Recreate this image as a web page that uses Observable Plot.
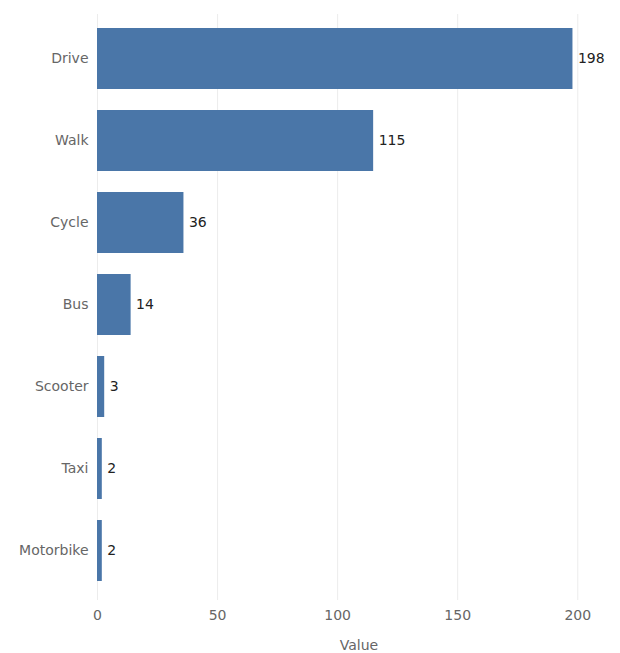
<!DOCTYPE html>
<html>
<head>
<meta charset="utf-8">
<script src="https://cdn.jsdelivr.net/npm/d3@7"></script>
<script src="https://cdn.jsdelivr.net/npm/@observablehq/plot@0.6"></script>
<style>
  body { margin: 0; background: #fff; }
  #chart svg { display: block; }
</style>
</head>
<body>
<div id="chart"></div>
<script>
const modes = ["Drive", "Walk", "Cycle", "Bus", "Scooter", "Taxi", "Motorbike"];
const counts = [198, 115, 36, 14, 3, 2, 2];
const xTicks = [0, 50, 100, 150, 200];
const xLabel = "Value";

const data = modes.map((m, i) => ({mode: m, value: counts[i]}));
const font = "'DejaVu Sans', sans-serif";

const chart = Plot.plot({
  width: 620,
  height: 653,
  marginLeft: 97,
  marginRight: 0,
  marginTop: 14,
  marginBottom: 59,
  style: {fontFamily: font, fontSize: "14px", background: "#fff"},
  x: {domain: [0, d3.max(counts) * 1.1]},
  y: {domain: modes, paddingInner: 0.26, paddingOuter: 0.13},
  marks: [
    Plot.gridX(xTicks, {stroke: "#ececec", strokeOpacity: 1}),
    Plot.axisX(xTicks, {
      label: xLabel, labelAnchor: "center", labelOffset: 55, labelArrow: "none",
      tickSize: 6, tickPadding: 10, stroke: "#ececec", fill: "#666",
      line: true, fontSize: 14
    }),
    Plot.axisY({tickSize: 0, tickPadding: 9, label: null, fill: "#666", fontSize: 14}),
    Plot.barX(data, {y: "mode", x: "value", fill: "#4a76a8"}),
    Plot.text(data, {y: "mode", x: "value", text: d => String(d.value), textAnchor: "start", dx: 5, fill: "#222", fontWeight: 500, fontSize: 14})
  ]
});
document.getElementById("chart").appendChild(chart);
</script>
</body>
</html>
